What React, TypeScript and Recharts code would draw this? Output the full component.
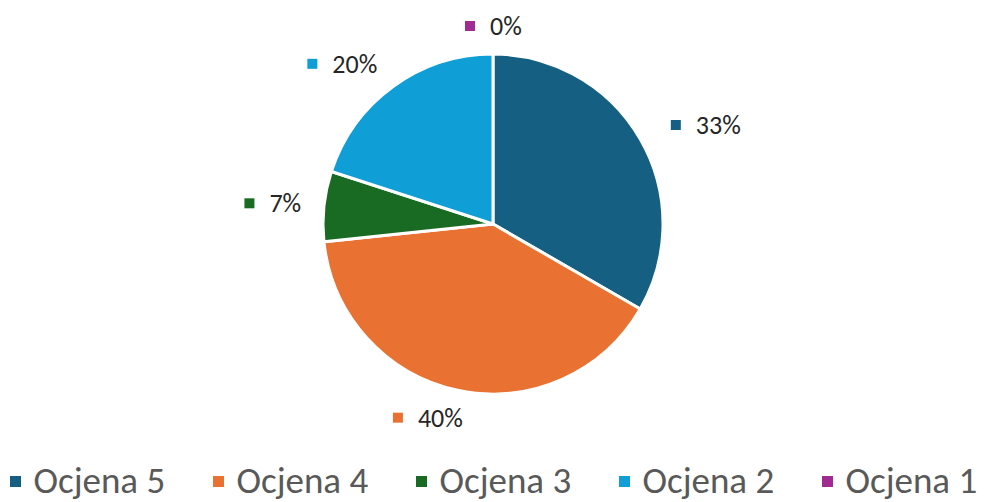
import React from 'react';
import { PieChart, Pie, Cell, Legend } from 'recharts';

const categories = ['Ocjena 5', 'Ocjena 4', 'Ocjena 3', 'Ocjena 2', 'Ocjena 1'];
const values = [5, 6, 1, 3, 0];
const colors = ['#156082', '#E97132', '#196B24', '#0F9ED5', '#A02B93'];

const data = categories.map((name, i) => ({ name, value: values[i] }));
const total = values.reduce((a, b) => a + b, 0);

const FONT = "Carlito, 'Liberation Sans Narrow', Lato, 'Open Sans', sans-serif";
const RAD = Math.PI / 180;

const renderLabel = (props: any) => {
  const { cx, cy, midAngle, outerRadius, index } = props;
  const pct = Math.round((values[index] / total) * 100) + '%';
  const ux = Math.cos(-midAngle * RAD);
  const uy = Math.sin(-midAngle * RAD);
  const fs = 26;
  const sq = 10;
  const gap = 15;
  const textW = pct.length * 14.5 + 2;
  const w = sq + gap + textW;
  const h = 16;
  const g = 20;
  let bx = cx + (outerRadius + g) * ux + (w / 2) * ux;
  const by = cy + (outerRadius + g) * uy + (h / 2) * uy;
  if (Math.abs(ux) > 0.01) bx += 18 * Math.sign(ux) * Math.min(1, Math.abs(uy) * 2);
  const left = bx - w / 2;
  return (
    <g key={'lbl' + index}>
      <rect x={left} y={by - sq / 2} width={sq} height={sq} fill={colors[index]} />
      <text
        x={left + sq + gap}
        y={by}
        fill="#262626"
        fontSize={fs}
        fontFamily={FONT}
        textAnchor="start"
        dominantBaseline="central"
      >
        {pct}
      </text>
    </g>
  );
};

const renderLegend = () => (
  <div
    style={{
      display: 'flex',
      flexDirection: 'row',
      justifyContent: 'center',
      alignItems: 'flex-start',
      width: 992,
      height: 43,
      fontFamily: FONT,
    }}
  >
    {categories.map((c, i) => (
      <div
        key={c}
        style={{ display: 'flex', alignItems: 'flex-start', width: i === categories.length - 1 ? 161 : 203, height: 43 }}
      >
        <div style={{ width: 11, height: 11, background: colors[i], marginRight: 13, flexShrink: 0, marginTop: 17 }} />
        <span style={{ fontSize: 37, color: '#595959', whiteSpace: 'nowrap', lineHeight: '43px' }}>{c}</span>
      </div>
    ))}
  </div>
);

export default function App() {
  return (
    <div style={{ position: 'absolute', left: 0, top: 0, width: 992, height: 502, background: '#fff', overflow: 'hidden' }}>
      <PieChart width={992} height={502} margin={{ top: 0, right: 0, bottom: 0, left: 0 }}>
        <Pie
          data={data}
          dataKey="value"
          nameKey="name"
          cx={493}
          cy={224}
          outerRadius={170}
          startAngle={90}
          endAngle={-270}
          stroke="#ffffff"
          strokeWidth={3}
          label={renderLabel}
          labelLine={false}
          isAnimationActive={false}
        >
          {data.map((d, i) => (
            <Cell key={d.name} fill={colors[i]} />
          ))}
        </Pie>
        <Legend
          content={renderLegend}
          wrapperStyle={{ position: 'absolute', left: 0, top: 459, width: 992, height: 43 }}
        />
      </PieChart>
    </div>
  );
}
